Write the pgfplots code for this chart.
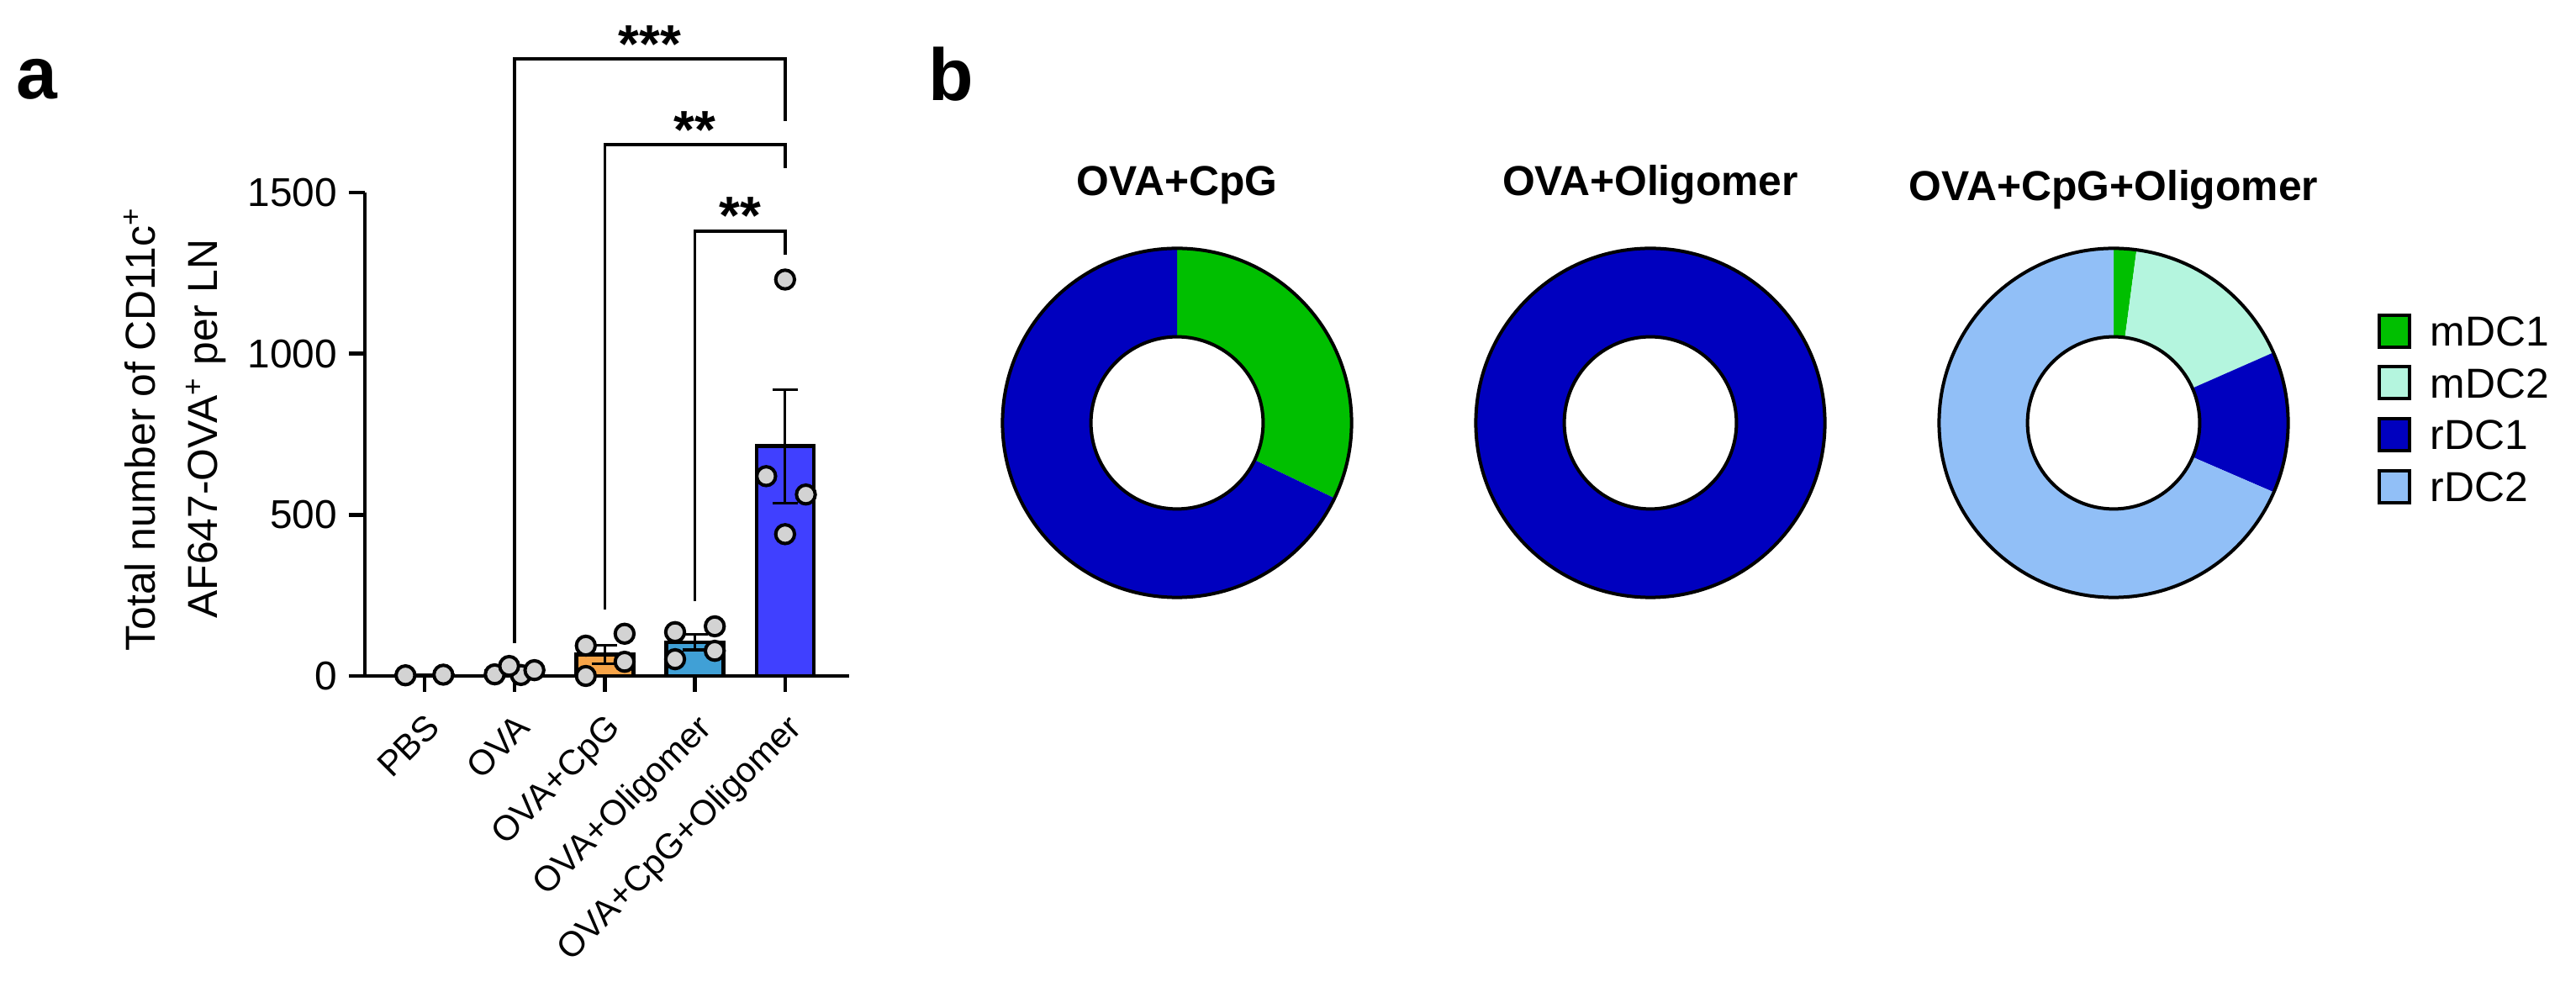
\documentclass[border=0pt]{standalone}
\usepackage{pgfplots}
\pgfplotsset{compat=1.18}
\usepackage{pgfplotstable}
\usepackage{fontspec}
\setmainfont{Liberation Sans}

\definecolor{barCpG}{RGB}{247,164,72}
\definecolor{barOlig}{RGB}{64,160,214}
\definecolor{barBoth}{RGB}{64,64,255}
\definecolor{ptgray}{RGB}{211,211,211}
\definecolor{colMa}{RGB}{0,191,0}
\definecolor{colMb}{RGB}{180,245,222}
\definecolor{colRa}{RGB}{0,0,191}
\definecolor{colRb}{RGB}{145,191,247}

% donut shares (percent), clockwise from 12 o'clock
\pgfplotstableread{
cell pct col
mDC1 32.1 colMa
rDC1 67.9 colRa
}\donutA
\pgfplotstableread{
cell pct col
rDC1 100 colRa
}\donutB
\pgfplotstableread{
cell pct col
mDC1 2.1 colMa
mDC2 16.3 colMb
rDC1 13.1 colRa
rDC2 68.5 colRb
}\donutC

\def\Rout{51.9bp}
\def\Rin{25.6bp}
\newcommand{\drawdonut}[1]{%
  \pgfplotsextra{%
    \coordinate (dc) at (axis cs:0,0);
    \pgfplotstablegetrowsof{#1}%
    \pgfmathtruncatemacro{\lastrow}{\pgfplotsretval-1}%
    \xdef\cumangle{90}%
    \foreach \r in {0,...,\lastrow}{%
      \pgfplotstablegetelem{\r}{pct}\of{#1}%
      \let\pct\pgfplotsretval
      \pgfplotstablegetelem{\r}{col}\of{#1}%
      \let\segcol\pgfplotsretval
      \pgfmathsetmacro{\endangle}{\cumangle-3.6*\pct}%
      \fill[fill=\segcol] ([shift={(\cumangle:\Rout)}]dc)
        arc[start angle=\cumangle, end angle=\endangle, radius=\Rout]
        -- ([shift={(\endangle:\Rin)}]dc)
        arc[start angle=\endangle, end angle=\cumangle, radius=\Rin] -- cycle;
      \xdef\cumangle{\endangle}%
    }%
    \draw[line width=1bp] (dc) circle[radius=\Rout];
    \draw[line width=1bp, fill=white] (dc) circle[radius=\Rin];
  }%
}

\pgfplotsset{
  donut/.style={hide axis, scale only axis, width=104bp, height=104bp,
    xmin=-1, xmax=1, ymin=-1, ymax=1, anchor=center, clip=false},
  gbar/.style={ybar, bar width=17bp, bar shift=0pt, draw=black, line width=1.1bp,
    error bars/y dir=both, error bars/y explicit,
    error bars/error bar style={line width=0.8bp, black},
    error bars/error mark options={rotate=90, mark size=3.75bp, line width=0.8bp, black}},
}

\begin{document}
\begin{tikzpicture}

\node[anchor=base west, inner sep=0pt, font=\bfseries\fontsize{22}{22}\selectfont] at (4.75bp,268.75bp) {a};
\node[anchor=base west, inner sep=0pt, font=\bfseries\fontsize{22}{22}\selectfont] at (276bp,268.25bp) {b};

% ---- panel a: bars with points ----
\begin{axis}[
  at={(108.5bp,97.25bp)}, anchor=south west,
  scale only axis, width=144bp, height=143.75bp,
  xmin=-0.66, xmax=4.71, ymin=0, ymax=1500,
  axis x line*=bottom, axis y line*=left,
  axis line style={line width=1.1bp},
  xtick={0,1,2,3,4},
  xticklabels={PBS,OVA,OVA+CpG,OVA+Oligomer,OVA+CpG+Oligomer},
  ytick={0,500,1000,1500},
  tick align=outside, major tick length=4.75bp,
  tick style={line width=1.1bp, black},
  yticklabel style={font=\fontsize{12}{14}\selectfont},
  /pgf/number format/assume math mode=true,
  /pgf/number format/1000 sep={},
  xticklabel style={font=\fontsize{10.5}{12}\selectfont, rotate=45, anchor=north east, inner sep=0pt},
  xticklabel shift=5.75bp,
  ylabel={Total number of CD11c\textsuperscript{+}\\AF647-OVA\textsuperscript{+} per LN},
  ylabel style={at={(axis description cs:-0.392,0.511)}, anchor=center, align=center,
    font=\fontsize{12.5}{18.5}\selectfont},
  clip=false,
]
% mean +- SEM
\addplot[gbar, fill=white] coordinates {(0,3) +- (0,1)};
\addplot[gbar, fill=white] coordinates {(1,14) +- (0,6.5)};
\addplot[gbar, fill=barCpG] coordinates {(2,67) +- (0,28.6)};
\addplot[gbar, fill=barOlig] coordinates {(3,105) +- (0,24)};
\addplot[gbar, fill=barBoth] coordinates {(4,713) +- (0,176)};
% individual animals
\addplot[only marks, mark=*, mark size=2.8bp,
  mark options={fill=ptgray, draw=black, line width=1bp}] coordinates {
  (-0.21,2) (0.21,4)
  (1.07,3) (0.78,5) (0.94,31) (1.22,18)
  (1.79,0) (1.79,94) (2.22,131) (2.22,44)
  (2.78,136) (3.22,154) (2.78,52) (3.22,78)
  (4,1230) (3.79,620) (4.23,563) (4,440)
};
% significance brackets
\draw[line width=0.9bp] (axis cs:1,102) -- (axis cs:1,1915) -- (axis cs:4,1915) -- (axis cs:4,1722);
\draw[line width=0.9bp] (axis cs:2,206) -- (axis cs:2,1649) -- (axis cs:4,1649) -- (axis cs:4,1576);
\draw[line width=0.9bp] (axis cs:3,232) -- (axis cs:3,1380) -- (axis cs:4,1380) -- (axis cs:4,1307);
\node[anchor=base, inner sep=0pt, font=\bfseries\fontsize{16}{16}\selectfont] at (axis cs:2.5,1902) {***};
\node[anchor=base, inner sep=0pt, font=\bfseries\fontsize{16}{16}\selectfont] at (axis cs:3,1638) {**};
\node[anchor=base, inner sep=0pt, font=\bfseries\fontsize{16}{16}\selectfont] at (axis cs:3.5,1372) {**};
\end{axis}

% ---- panel b: donuts ----
\node[anchor=base, inner sep=0pt, font=\bfseries\fontsize{12.5}{15}\selectfont] at (350bp,240bp) {OVA+CpG};
\node[anchor=base, inner sep=0pt, font=\bfseries\fontsize{12.5}{15}\selectfont] at (490.75bp,240bp) {OVA+Oligomer};
\node[anchor=base, inner sep=0pt, font=\bfseries\fontsize{12.5}{15}\selectfont] at (628.5bp,238.5bp) {OVA+CpG+Oligomer};

\begin{axis}[donut, at={(350bp,172.5bp)}]
\drawdonut{\donutA}
\end{axis}

\begin{axis}[donut, at={(490.75bp,172.5bp)}]
\drawdonut{\donutB}
\end{axis}

\begin{axis}[donut, at={(628.5bp,172.5bp)},
  legend style={at={(1.2524,0.8149)}, anchor=north west, draw=none, fill=none,
    inner sep=0pt, row sep=4.9bp, font=\fontsize{12.5}{13}\selectfont,
    cells={anchor=base west},
    nodes={inner sep=0pt, text height=9.1bp, text depth=0pt},
    /tikz/every odd column/.append style={column sep=5.75bp}},
  legend image code/.code={\draw[#1, line width=1bp] (0bp,-0.25bp) rectangle (9bp,9.25bp);},
]
\drawdonut{\donutC}
\addlegendimage{fill=colMa, draw=black}
\addlegendentry{mDC1}
\addlegendimage{fill=colMb, draw=black}
\addlegendentry{mDC2}
\addlegendimage{fill=colRa, draw=black}
\addlegendentry{rDC1}
\addlegendimage{fill=colRb, draw=black}
\addlegendentry{rDC2}
\end{axis}

\pgfresetboundingbox
\path[use as bounding box] (0,0) rectangle (766bp,298.25bp);
\end{tikzpicture}
\end{document}
